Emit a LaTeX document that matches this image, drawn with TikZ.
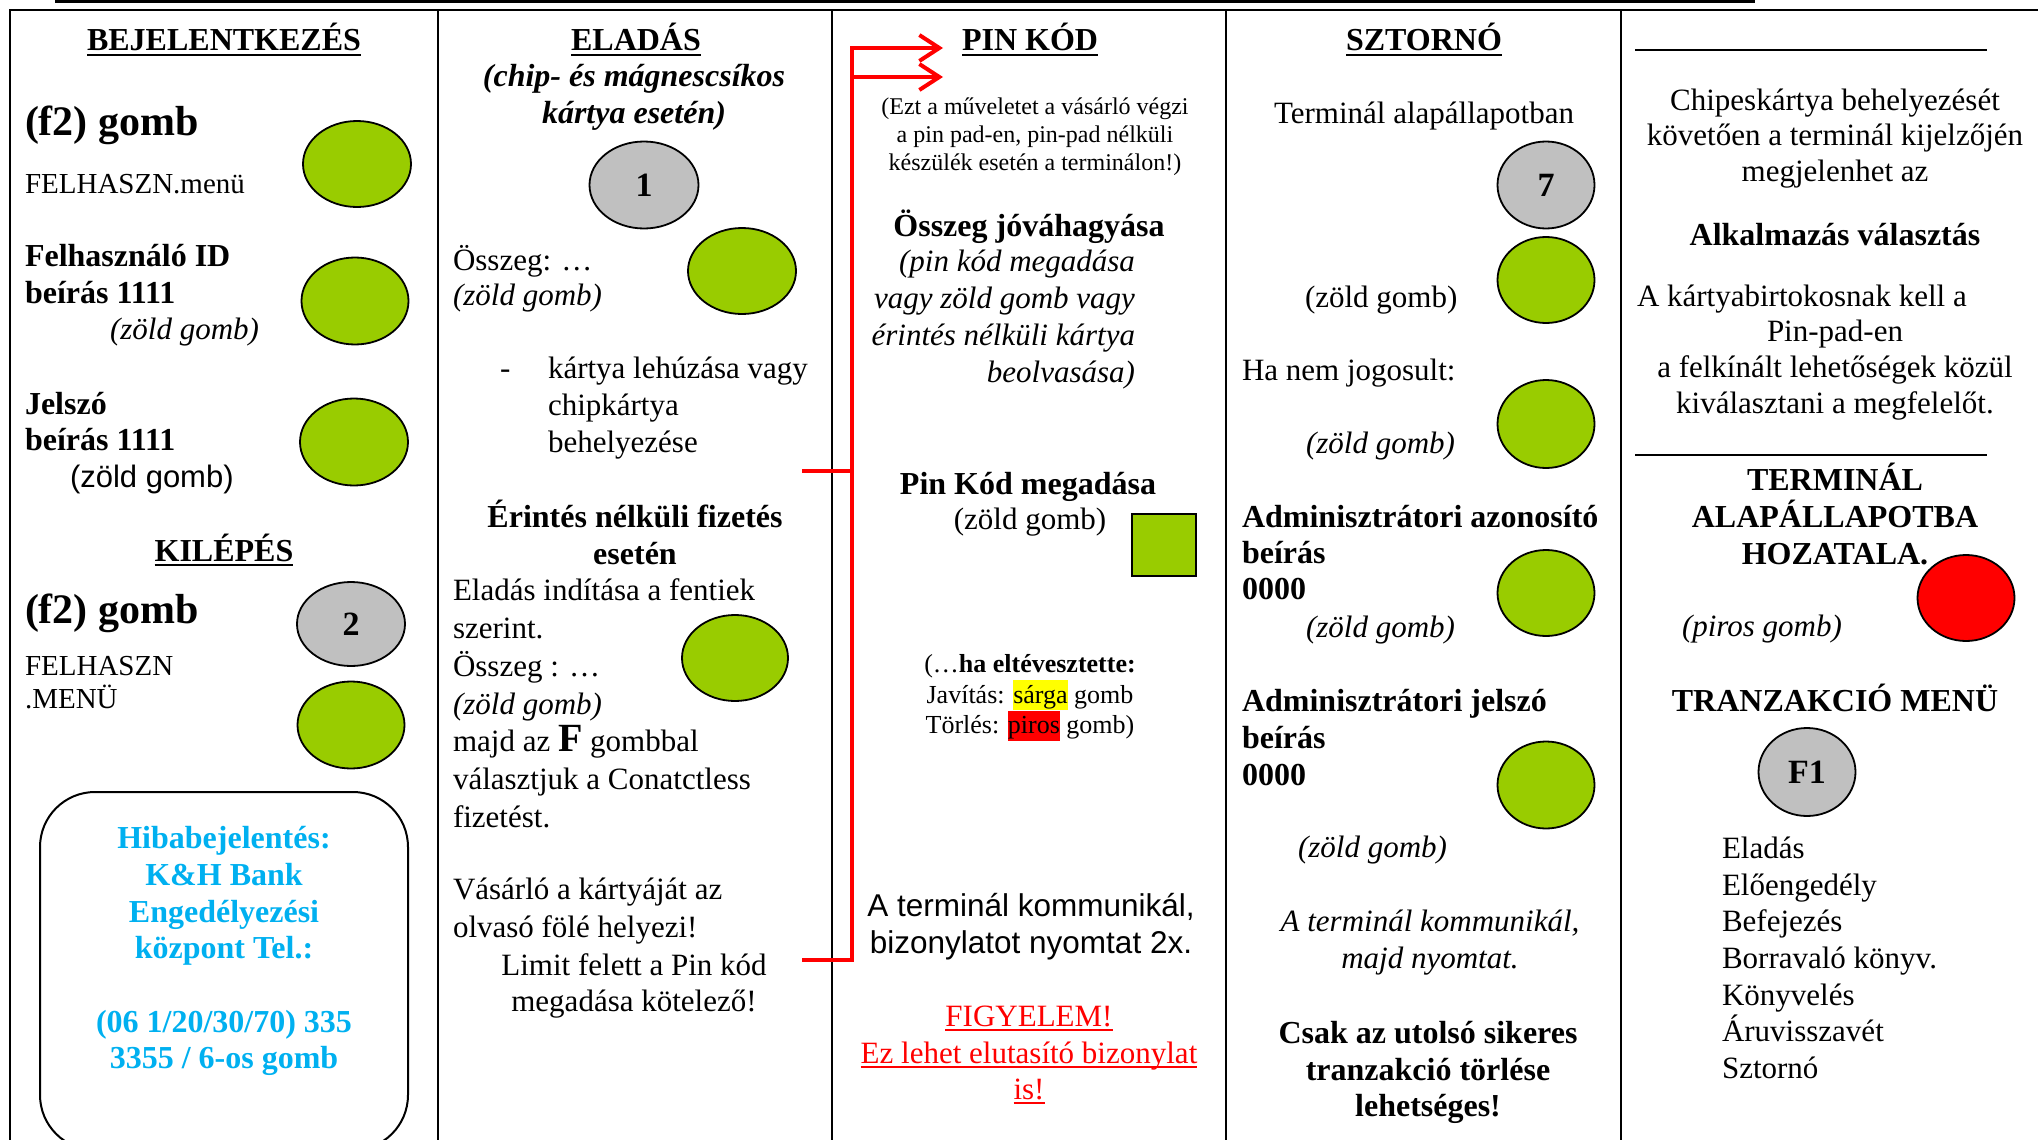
\documentclass[tikz,border=0pt]{standalone}
\usepackage{fontspec}
\setmainfont{Liberation Serif}
\newfontfamily\arialf{Liberation Sans}
\usetikzlibrary{arrows.meta,shapes.geometric}
\definecolor{btngreen}{HTML}{99CC00}
\definecolor{btngray}{HTML}{C0C0C0}
\definecolor{infoblue}{HTML}{00B0F0}
\definecolor{alarmred}{HTML}{FF0000}
\definecolor{hlyellow}{HTML}{FFFF00}
\newcommand\tstrut{\rule{0pt}{0.9em}}
\newcommand\hlbox[2]{{\setlength{\fboxsep}{0pt}\colorbox{#1}{\rule[-7pt]{0pt}{30pt}#2}}}
\begin{document}
\begin{tikzpicture}[x=1pt,y=-1pt,
  every node/.style={inner sep=0pt,outer sep=0pt},
  colline/.style={line width=2.7pt},
  btn/.style={ellipse,draw=black,line width=1.8pt},
  gbtn/.style={btn,fill=btngreen},
  kbtn/.style={btn,fill=btngray,font=\fontsize{34}{36}\selectfont\bfseries},
  rbtn/.style={btn,fill=alarmred},
  thead/.style={anchor=base,font=\fontsize{32}{37}\selectfont\bfseries},
  tbold/.style={font=\fontsize{32}{37}\selectfont\bfseries},
  tbig/.style={font=\fontsize{42}{46}\selectfont\bfseries},
  treg/.style={font=\fontsize{31}{37}\selectfont},
  tital/.style={font=\fontsize{31}{37}\selectfont\itshape},
  ulin/.style={line width=2.2pt},
  conn/.style={draw=alarmred,line width=4pt},
  rtip/.style={-{Straight Barb[length=20pt,width=26pt]}}
]
\useasboundingbox (0,0) rectangle (2038,1140);
\clip (0,0) rectangle (2038,1140);

% frame
\fill (55,0) rectangle (1755,3.5);
\draw[colline] (10,1160) -- (10,10) -- (2060,10);
\foreach \xx in {438,832,1226,1621} \draw[colline] (\xx,10) -- (\xx,1160);

% ---------------- column 1
\node[thead] (h1) at (224,51) {BEJELENTKEZÉS};
\draw[ulin] ([yshift=-4pt]h1.base west) -- ([yshift=-4pt]h1.base east);
\node[tbig,anchor=base west] (f2a) at (25,135) {(f2) gomb};
\node[font=\fontsize{29}{33}\selectfont,anchor=base west] (fm1) at (25,193) {FELHASZN.menü};
\node[gbtn,minimum width=108pt,minimum height=86pt] (g1) at (357,164) {};
\node[tbold,anchor=north west,align=left] (fid) at (25,237.7) {\tstrut Felhasználó ID\\beírás 1111};
\node[tital,anchor=base west] (zg1) at (110,339) {(zöld gomb)};
\node[gbtn,minimum width=107pt,minimum height=87pt] (g2) at (355,301) {};
\node[font=\fontsize{32}{36}\selectfont\bfseries,anchor=north west,align=left] (jsz) at (25,385.2) {\tstrut Jelszó\\beírás 1111};
\node[font=\fontsize{31}{37}\selectfont\arialf,anchor=base west] (zg2) at (70,487) {(zöld gomb)};
\node[gbtn,minimum width=108pt,minimum height=87pt] (g3) at (354,442) {};
\node[thead] (h1b) at (224,561) {KILÉPÉS};
\draw[ulin] ([yshift=-4pt]h1b.base west) -- ([yshift=-4pt]h1b.base east);
\node[tbig,anchor=base west] (f2b) at (25,623) {(f2) gomb};
\node[kbtn,minimum width=108pt,minimum height=84pt] (k2) at (351,624) {2};
\node[font=\fontsize{29}{33}\selectfont,anchor=north west,align=left] (fm2) at (25,648.9) {\tstrut FELHASZN\\.MENÜ};
\node[gbtn,minimum width=107pt,minimum height=87pt] (g4) at (351,725) {};
\draw[line width=2pt,rounded corners=55pt] (40,1150) -- (40,792) -- (408,792) -- (408,1150) -- cycle;
\node[font=\fontsize{32}{36.67}\selectfont\bfseries,text=infoblue,anchor=north,align=center] (info) at (224,820)
  {\tstrut Hibabejelentés:\\K\&H Bank\\Engedélyezési\\központ Tel.:\\[36.67pt](06 1/20/30/70) 335\\3355 / 6-os gomb};

% ---------------- column 2
\node[thead] (h2) at (636,51) {ELADÁS};
\draw[ulin] ([yshift=-4pt]h2.base west) -- ([yshift=-4pt]h2.base east);
\node[font=\fontsize{32}{36.5}\selectfont\bfseries\itshape,anchor=north,align=center] (chip) at (634,57.7) {\tstrut(chip- és mágnescsíkos\\kártya esetén)};
\node[kbtn,minimum width=109pt,minimum height=87pt] (k1) at (644,185) {1};
\node[treg,anchor=base west] (osz1) at (453,270) {Összeg: …};
\node[tital,anchor=base west] (zg3) at (453,305) {(zöld gomb)};
\node[gbtn,minimum width=108pt,minimum height=86pt] (g5) at (742,271) {};
\node[treg,anchor=base west] (dash) at (500,378) {-};
\node[treg,anchor=north west,align=left] (kl) at (548,350.1) {\tstrut kártya lehúzása vagy\\chipkártya\\behelyezése};
\node[tbold,anchor=north,align=center] (erint) at (635,499) {\tstrut Érintés nélküli fizetés\\esetén};
\node[font=\fontsize{31}{37.7}\selectfont,anchor=north west,align=left] (elad) at (453,573)
  {\tstrut Eladás indítása a fentiek\\szerint.\\Összeg : …\\\textit{(zöld gomb)}\\majd az {\fontsize{40}{37.7}\selectfont\bfseries F} gombbal\\választjuk a Conatctless\\fizetést.\\[35pt]Vásárló a kártyáját az\\olvasó fölé helyezi!};
\node[gbtn,minimum width=106pt,minimum height=86pt] (g6) at (735,658) {};
\node[font=\fontsize{31}{36}\selectfont,anchor=north,align=center] (limit) at (634,948) {\tstrut Limit felett a Pin kód\\megadása kötelező!};

% red connector
\coordinate (stA) at (802,471);
\coordinate (jA) at (852,471);
\coordinate (stB) at (802,960);
\coordinate (jB) at (852,960);
\coordinate (jT) at (852,48);
\coordinate (jM) at (852,77);
\coordinate (tipT) at (943,48);
\coordinate (tipM) at (943,77);
\draw[conn,rtip] (stB) -- (jB) -- (jT) -- (tipT);
\draw[conn] (stA) -- (jA);
\draw[conn,rtip] (jM) -- (tipM);

% ---------------- column 3
\node[thead] (h3) at (1030,51) {PIN KÓD};
\draw[ulin] ([yshift=-4pt]h3.base west) -- ([yshift=-4pt]h3.base east);
\node[font=\fontsize{24}{28}\selectfont,anchor=north,align=center] (ezt) at (1035,93) {\tstrut(Ezt a műveletet a vásárló végzi\\a pin pad-en, pin-pad nélküli\\készülék esetén a terminálon!)};
\node[thead] (ojov) at (1029,236) {Összeg jóváhagyása};
\node[font=\fontsize{31}{36.8}\selectfont\itshape,anchor=north east,align=right] (pinit) at (1135,244) {\tstrut(pin kód megadása\\vagy zöld gomb vagy\\érintés nélküli kártya\\beolvasása)};
\node[thead] (pkm) at (1028,494) {Pin Kód megadása};
\node[treg,anchor=base] (zg4) at (1030,529) {(zöld gomb)};
\node[draw=black,line width=1.8pt,fill=btngreen,minimum width=64pt,minimum height=62pt] (sq) at (1164,545) {};
\node[font=\fontsize{26}{30.5}\selectfont,anchor=north,align=center] (hiba) at (1030,649.5)
  {\tstrut(…\textbf{ha eltévesztette:}\\Javítás: \hlbox{hlyellow}{sárga} gomb\\Törlés: \hlbox{alarmred}{piros} gomb)};
\node[font=\fontsize{31.5}{37}\selectfont\arialf,anchor=north,align=center] (komm) at (1031,888.6) {\tstrut A terminál kommunikál,\\bizonylatot nyomtat 2x.};
\node[treg,text=alarmred,anchor=base] (fig1) at (1029,1026) {FIGYELEM!};
\node[treg,text=alarmred,anchor=base] (fig2) at (1029,1063) {Ez lehet elutasító bizonylat};
\node[treg,text=alarmred,anchor=base] (fig3) at (1029,1099) {is!};
\foreach \nn in {fig1,fig2,fig3}
  \draw[alarmred,line width=2pt] ([yshift=-4pt]\nn.base west) -- ([yshift=-4pt]\nn.base east);

% ---------------- column 4
\node[thead] (h4) at (1424,51) {SZTORNÓ};
\draw[ulin] ([yshift=-4pt]h4.base west) -- ([yshift=-4pt]h4.base east);
\node[treg,anchor=base] (term) at (1424,123) {Terminál alapállapotban};
\node[kbtn,minimum width=97pt,minimum height=87pt] (k7) at (1546,185) {7};
\node[gbtn,minimum width=97pt,minimum height=86pt] (g7) at (1546,280) {};
\node[treg,anchor=base west] (zg5) at (1305,307) {(zöld gomb)};
\node[treg,anchor=base west] (hanem) at (1242,380) {Ha nem jogosult:};
\node[gbtn,minimum width=97pt,minimum height=88pt] (g8) at (1546,424) {};
\node[tital,anchor=base west] (zg6) at (1306,453) {(zöld gomb)};
\node[font=\fontsize{32}{36}\selectfont\bfseries,anchor=north west,align=left] (adaz) at (1242,498.2) {\tstrut Adminisztrátori azonosító\\beírás\\0000};
\node[gbtn,minimum width=97pt,minimum height=86pt] (g9) at (1546,593) {};
\node[tital,anchor=base west] (zg7) at (1306,637) {(zöld gomb)};
\node[tbold,anchor=north west,align=left] (adj) at (1242,683) {\tstrut Adminisztrátori jelszó\\beírás\\0000};
\node[gbtn,minimum width=97pt,minimum height=87pt] (g10) at (1546,785) {};
\node[tital,anchor=base west] (zg8) at (1298,857) {(zöld gomb)};
\node[font=\fontsize{31}{36.5}\selectfont\itshape,anchor=north,align=center] (tkom) at (1430,904) {\tstrut A terminál kommunikál,\\majd nyomtat.};
\node[font=\fontsize{32}{36.5}\selectfont\bfseries,anchor=north,align=center] (csak) at (1428,1015) {\tstrut Csak az utolsó sikeres\\tranzakció törlése\\lehetséges!};

% ---------------- column 5
\draw[line width=1.5pt] (1635,50) -- (1987,50);
\node[font=\fontsize{31}{35.5}\selectfont,anchor=north,align=center] (chipes) at (1835,82.5) {\tstrut Chipeskártya behelyezését\\követően a terminál kijelzőjén\\megjelenhet az};
\node[thead] (alk) at (1835,245) {Alkalmazás választás};
\node[treg,anchor=base west] (kart) at (1637,306) {A kártyabirtokosnak kell a};
\node[font=\fontsize{31}{36}\selectfont,anchor=north,align=center] (pinpad) at (1835,314) {\tstrut Pin-pad-en\\a felkínált lehetőségek közül\\kiválasztani a megfelelőt.};
\draw[line width=1.5pt] (1635,455) -- (1987,455);
\node[tbold,anchor=north,align=center] (talap) at (1835,461.5) {\tstrut TERMINÁL\\ALAPÁLLAPOTBA\\HOZATALA.};
\node[rbtn,minimum width=97pt,minimum height=86pt] (r1) at (1966,598) {};
\node[tital,anchor=base west] (pg) at (1682,636) {(piros gomb)};
\node[thead] (tmenu) at (1835,711) {TRANZAKCIÓ MENÜ};
\node[kbtn,minimum width=97pt,minimum height=88pt] (kf1) at (1807,772) {F1};
\node[font=\fontsize{31}{36.7}\selectfont,anchor=north west,align=left] (menu) at (1722,830.5)
  {\tstrut Eladás\\Előengedély\\Befejezés\\Borravaló könyv.\\Könyvelés\\Áruvisszavét\\Sztornó};
\end{tikzpicture}
\end{document}
